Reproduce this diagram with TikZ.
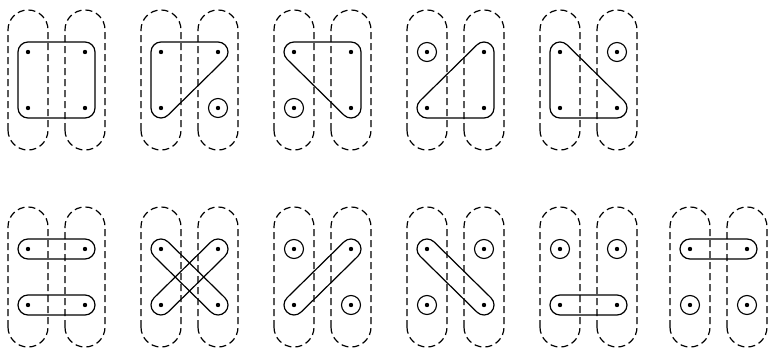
\documentclass[tikz,border=0pt]{standalone}
\tikzset{
  capsule/.style={draw, dash pattern=on 7pt off 4pt, line width=1.2pt, rounded corners=19.9pt},
  hull/.style={draw, line width=1.2pt, line join=round},
  ring/.style={draw, line width=1.1pt},
}
\newcommand\segcaps[3]{%
  \draw[hull] ([shift={(#3-90:10)}]#1) -- ([shift={(#3-90:10)}]#2)
    arc[start angle=#3-90, end angle=#3+90, radius=10]
    -- ([shift={(#3+90:10)}]#1)
    arc[start angle=#3+90, end angle=#3+270, radius=10] -- cycle;}
\begin{document}
\begin{tikzpicture}[x=1pt,y=1pt]
\useasboundingbox (0,0) rectangle (769,348);
\pgfmathsetmacro\A{atan(56/57)}
\foreach \n/\x/\y in {a/28/268, b/161/268, c/294/268, d/427/268, e/560/268,
                      f/28/71, g/161/71, h/294/71, i/427/71, j/560/71, k/690/71}{
  \coordinate (\n TL) at (\x,\y+28);
  \coordinate (\n TR) at (\x+57,\y+28);
  \coordinate (\n BL) at (\x,\y-28);
  \coordinate (\n BR) at (\x+57,\y-28);
  \draw[capsule] (\x-20,\y-70) rectangle (\x+20,\y+70);
  \draw[capsule] (\x+37,\y-70) rectangle (\x+77,\y+70);
  \foreach \c in {TL,TR,BL,BR}{\fill (\n\c) circle (2.2);}
}
% panel a: all four
\draw[hull, rounded corners=10pt] ([shift={(-10,-10)}]aBL) rectangle ([shift={(10,10)}]aTR);
% panel b
\draw[hull] ([shift={(180:10)}]bTL) -- ([shift={(180:10)}]bBL)
  arc[start angle=180, end angle=270+\A, radius=10]
  -- ([shift={(\A-90:10)}]bTR) arc[start angle=\A-90, end angle=90, radius=10]
  -- ([shift={(90:10)}]bTL) arc[start angle=90, end angle=180, radius=10] -- cycle;
\draw[ring] (bBR) circle (9.5);
% panel c
\draw[hull] ([shift={(270-\A:10)}]cTL) -- ([shift={(270-\A:10)}]cBR)
  arc[start angle=270-\A, end angle=360, radius=10]
  -- ([shift={(0:10)}]cTR) arc[start angle=0, end angle=90, radius=10]
  -- ([shift={(90:10)}]cTL) arc[start angle=90, end angle=270-\A, radius=10] -- cycle;
\draw[ring] (cBL) circle (9.5);
% panel d
\draw[hull] ([shift={(270:10)}]dBL) -- ([shift={(270:10)}]dBR)
  arc[start angle=270, end angle=360, radius=10]
  -- ([shift={(0:10)}]dTR) arc[start angle=0, end angle=90+\A, radius=10]
  -- ([shift={(90+\A:10)}]dBL) arc[start angle=90+\A, end angle=270, radius=10] -- cycle;
\draw[ring] (dTL) circle (9.5);
% panel e
\draw[hull] ([shift={(180:10)}]eTL) -- ([shift={(180:10)}]eBL)
  arc[start angle=180, end angle=270, radius=10]
  -- ([shift={(270:10)}]eBR) arc[start angle=270, end angle=450-\A, radius=10]
  -- ([shift={(90-\A:10)}]eTL) arc[start angle=90-\A, end angle=180, radius=10] -- cycle;
\draw[ring] (eTR) circle (9.5);
% bottom row
\segcaps{fTL}{fTR}{0}
\segcaps{fBL}{fBR}{0}
\segcaps{gBL}{gTR}{\A}
\segcaps{gTL}{gBR}{-\A}
\segcaps{hBL}{hTR}{\A}
\draw[ring] (hTL) circle (9.5);
\draw[ring] (hBR) circle (9.5);
\segcaps{iTL}{iBR}{-\A}
\draw[ring] (iTR) circle (9.5);
\draw[ring] (iBL) circle (9.5);
\segcaps{jBL}{jBR}{0}
\draw[ring] (jTL) circle (9.5);
\draw[ring] (jTR) circle (9.5);
\segcaps{kTL}{kTR}{0}
\draw[ring] (kBL) circle (9.5);
\draw[ring] (kBR) circle (9.5);
\end{tikzpicture}
\end{document}
